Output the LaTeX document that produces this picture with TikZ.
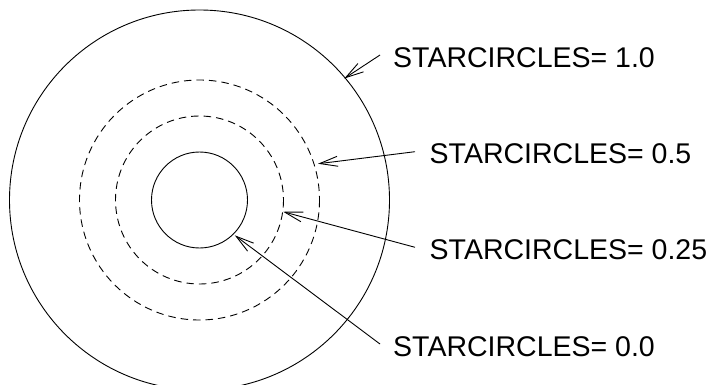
\documentclass[tikz,border=0pt]{standalone}
\usepackage{fontspec}
\setmainfont{Liberation Sans}
\usetikzlibrary{arrows.meta,calc}
\begin{document}
\begin{tikzpicture}[x=1pt,y=-1pt,
  ring/.style={line width=0.9pt},
  dashring/.style={line width=0.9pt,dash pattern=on 7.5pt off 5pt},
  lbl/.style={anchor=base west,inner sep=0pt,font=\fontsize{28.5pt}{30pt}\selectfont},
  pointer/.style={line width=0.9pt,-{Straight Barb[length=18pt,width=10pt,line width=0.9pt]}}]
\clip (0,0) rectangle (712,385);
\useasboundingbox (0,0) rectangle (712,385);
\coordinate (c) at (199.5,200);
\draw[ring] (c) circle[radius=190];
\draw[dashring] (c) circle[radius=120];
\draw[dashring] (c) circle[radius=84];
\draw[ring] (c) circle[radius=48];
% targets
\coordinate (t10) at ($(c)+(-40:189)$);
\coordinate (t05) at ($(c)+(-17:124)$);
\coordinate (t025) at ($(c)+(8:84.5)$);
\coordinate (t00) at ($(c)+(45:50)$);
% labels
\node[lbl] (l10) at (393,68) {STARCIRCLES= 1.0};
\node[lbl] (l05) at (429.5,164) {STARCIRCLES= 0.5};
\node[lbl] (l025) at (429.5,259) {STARCIRCLES= 0.25};
\node[lbl] (l00) at (393,356) {STARCIRCLES= 0.0};
\coordinate (s10) at ($(l10.base west)+(-13,-13)$);
\coordinate (s05) at ($(l05.base west)+(-14.5,-12.3)$);
\coordinate (s025) at ($(l025.base west)+(-14.5,-11.7)$);
\coordinate (s00) at ($(l00.base west)+(-13,-12)$);
\draw[pointer] (s10) -- (t10);
\draw[pointer] (s05) -- (t05);
\draw[pointer] (s025) -- (t025);
\draw[pointer] (s00) -- (t00);
\end{tikzpicture}
\end{document}
